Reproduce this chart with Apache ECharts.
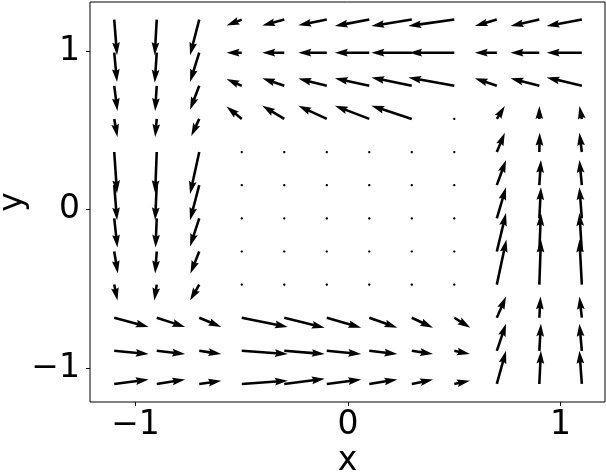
<!DOCTYPE html>
<html><head><meta charset="utf-8">
<script src="https://cdn.jsdelivr.net/npm/echarts@6/dist/echarts.min.js"></script>
<style>html,body{margin:0;padding:0;background:#fff}#c{width:606px;height:476px}</style>
</head><body><div id="c"></div>
<script>
// grid of arrow tails
const xs = [-1.1, -0.9, -0.7, -0.5, -0.3, -0.1, 0.1, 0.3, 0.5, 0.7, 0.9, 1.1];
const ys = [-1.1, -0.891, -0.682, -0.473, -0.264, -0.055, 0.155, 0.364, 0.573, 0.782, 0.991, 1.2];
// vector components, rows from bottom (y=-1.1) to top (y=1.2)
const U = [
  [0.86, 0.71, 0.55, 1.15, 1.01, 0.86, 0.70, 0.53, 0.39, 0.23, 0.04, -0.06],
  [0.86, 0.71, 0.55, 1.15, 1.01, 0.86, 0.70, 0.53, 0.39, 0.23, 0.04, -0.06],
  [0.86, 0.71, 0.55, 1.15, 1.01, 0.86, 0.70, 0.53, 0.40, 0.23, 0.03, -0.06],
  [0.08, -0.06, -0.23, 0, 0, 0, 0, 0, 0, 0.24, 0.04, -0.06],
  [0.09, -0.04, -0.22, 0, 0, 0, 0, 0, 0, 0.23, 0.04, -0.06],
  [0.08, -0.03, -0.23, 0, 0, 0, 0, 0, 0, 0.23, 0.04, -0.06],
  [0.07, -0.04, -0.23, 0, 0, 0, 0, 0, 0, 0.23, 0.04, -0.06],
  [0.07, -0.04, -0.23, 0, 0, 0, 0, 0, 0, 0.20, 0.01, -0.06],
  [0.08, -0.04, -0.20, -0.38, -0.55, -0.71, -0.86, -1.01, 0, 0.20, 0, -0.06],
  [0.08, -0.04, -0.23, -0.38, -0.55, -0.71, -0.86, -1.01, -1.15, -0.55, -0.72, -0.88],
  [0.07, -0.05, -0.23, -0.38, -0.55, -0.71, -0.86, -1.01, -1.13, -0.55, -0.72, -0.88],
  [0.07, -0.05, -0.23, -0.38, -0.55, -0.71, -0.86, -1.01, -1.15, -0.55, -0.72, -0.88]
];
const V = [
  [0.11, 0.11, 0.08, 0.08, 0.13, 0.11, 0.11, 0.11, 0.08, 0.83, 0.83, 0.83],
  [-0.08, -0.08, -0.08, -0.08, -0.08, -0.08, -0.08, -0.08, -0.08, 0.68, 0.68, 0.68],
  [-0.23, -0.23, -0.23, -0.23, -0.25, -0.25, -0.25, -0.25, -0.25, 0.53, 0.53, 0.53],
  [-0.40, -0.40, -0.40, 0, 0, 0, 0, 0, 0, 1.13, 1.13, 1.13],
  [-0.55, -0.55, -0.55, 0, 0, 0, 0, 0, 0, 0.96, 0.96, 0.96],
  [-0.73, -0.73, -0.70, 0, 0, 0, 0, 0, 0, 0.78, 0.78, 0.78],
  [-0.88, -0.88, -0.88, 0, 0, 0, 0, 0, 0, 0.63, 0.63, 0.63],
  [-1.03, -1.03, -1.05, 0, 0, 0, 0, 0, 0, 0.48, 0.48, 0.48],
  [-0.45, -0.45, -0.43, 0.31, 0.33, 0.33, 0.33, 0.33, 0, 0.32, 0.32, 0.32],
  [-0.63, -0.63, -0.60, 0.17, 0.19, 0.18, 0.19, 0.21, 0.21, 0.19, 0.19, 0.21],
  [-0.73, -0.75, -0.73, 0, 0, 0, 0, 0, 0, 0, 0, 0],
  [-0.89, -0.89, -0.89, -0.15, -0.15, -0.14, -0.16, -0.16, -0.16, -0.16, -0.16, -0.16]
];
const xTicks = [-1, 0, 1];
const yTicks = [-1, 0, 1];

const ARROW_SCALE = 40;   // px per vector unit
const SHAFT = 2.575;      // shaft width px

const data = [];
for (let j = 0; j < ys.length; j++)
  for (let i = 0; i < xs.length; i++)
    data.push([xs[i], ys[j], U[j][i], V[j][i]]);

function renderItem(params, api) {
  const p = api.coord([api.value(0), api.value(1)]);
  const u = api.value(2), v = api.value(3);
  const w = SHAFT;
  const dx = u * ARROW_SCALE, dy = -v * ARROW_SCALE;
  const Lpx = Math.hypot(dx, dy);
  const L = Lpx / w;
  let pts = [];
  if (L < 1) {
    for (let k = 0; k < 6; k++) {
      const th = k * Math.PI / 3;
      pts.push([p[0] + Math.cos(th) * 0.5 * w, p[1] + Math.sin(th) * 0.5 * w]);
    }
  } else {
    let X, Y;
    const Yb = [0.5, 0.5, 1.5, 0, -1.5, -0.5, -0.5];
    if (L >= 5) {
      X = [0, L - 4.5, L - 5, L, L - 5, L - 4.5, 0];
      Y = Yb;
    } else {
      const s = L / 5;
      X = [0, 0.5, 0, 5, 0, 0.5, 0].map(a => a * s);
      Y = Yb.map(b => b * s);
    }
    const c = dx / Lpx, sn = dy / Lpx;
    pts = X.map((a, k) => [p[0] + w * (a * c - Y[k] * sn), p[1] + w * (a * sn + Y[k] * c)]);
  }
  return { type: 'polygon', shape: { points: pts }, style: { fill: '#000' } };
}

const fmt = v => (v < 0 ? '\u2212' + Math.abs(v) : String(v));
const FONT = 'DejaVu Sans';

const chart = echarts.init(document.getElementById('c'), null, { renderer: 'canvas' });
chart.setOption({
  animation: false,
  backgroundColor: '#fff',
  grid: { left: 90, right: 1, top: 2, bottom: 74, containLabel: false, outerBoundsMode: 'none', show: true, borderColor: '#000', borderWidth: 1, backgroundColor: 'transparent' },
  xAxis: {
    type: 'value', min: -1.214, max: 1.209,
    name: 'x', nameLocation: 'middle', nameGap: 43, nameMoveOverlap: false,
    nameTextStyle: { fontFamily: FONT, fontSize: 33, color: '#000' },
    axisLine: { show: false, onZero: false },
    axisTick: { show: true, length: 4, customValues: xTicks, lineStyle: { color: '#000', width: 1 } },
    axisLabel: { customValues: xTicks, formatter: fmt, fontFamily: FONT, fontSize: 33, color: '#000', margin: 7 },
    splitLine: { show: false }
  },
  yAxis: {
    type: 'value', min: -1.214, max: 1.311,
    name: 'y', nameLocation: 'middle', nameGap: 60, nameMoveOverlap: false,
    nameTextStyle: { fontFamily: FONT, fontSize: 33, color: '#000' },
    axisLine: { show: false, onZero: false },
    axisTick: { show: true, length: 4, customValues: yTicks, lineStyle: { color: '#000', width: 1 } },
    axisLabel: { customValues: yTicks, formatter: fmt, fontFamily: FONT, fontSize: 33, color: '#000', margin: 10 },
    splitLine: { show: false }
  },
  series: [{
    type: 'custom',
    renderItem: renderItem,
    data: data,
    encode: { x: 0, y: 1 },
    clip: false
  }]
});
</script>
</body></html>
